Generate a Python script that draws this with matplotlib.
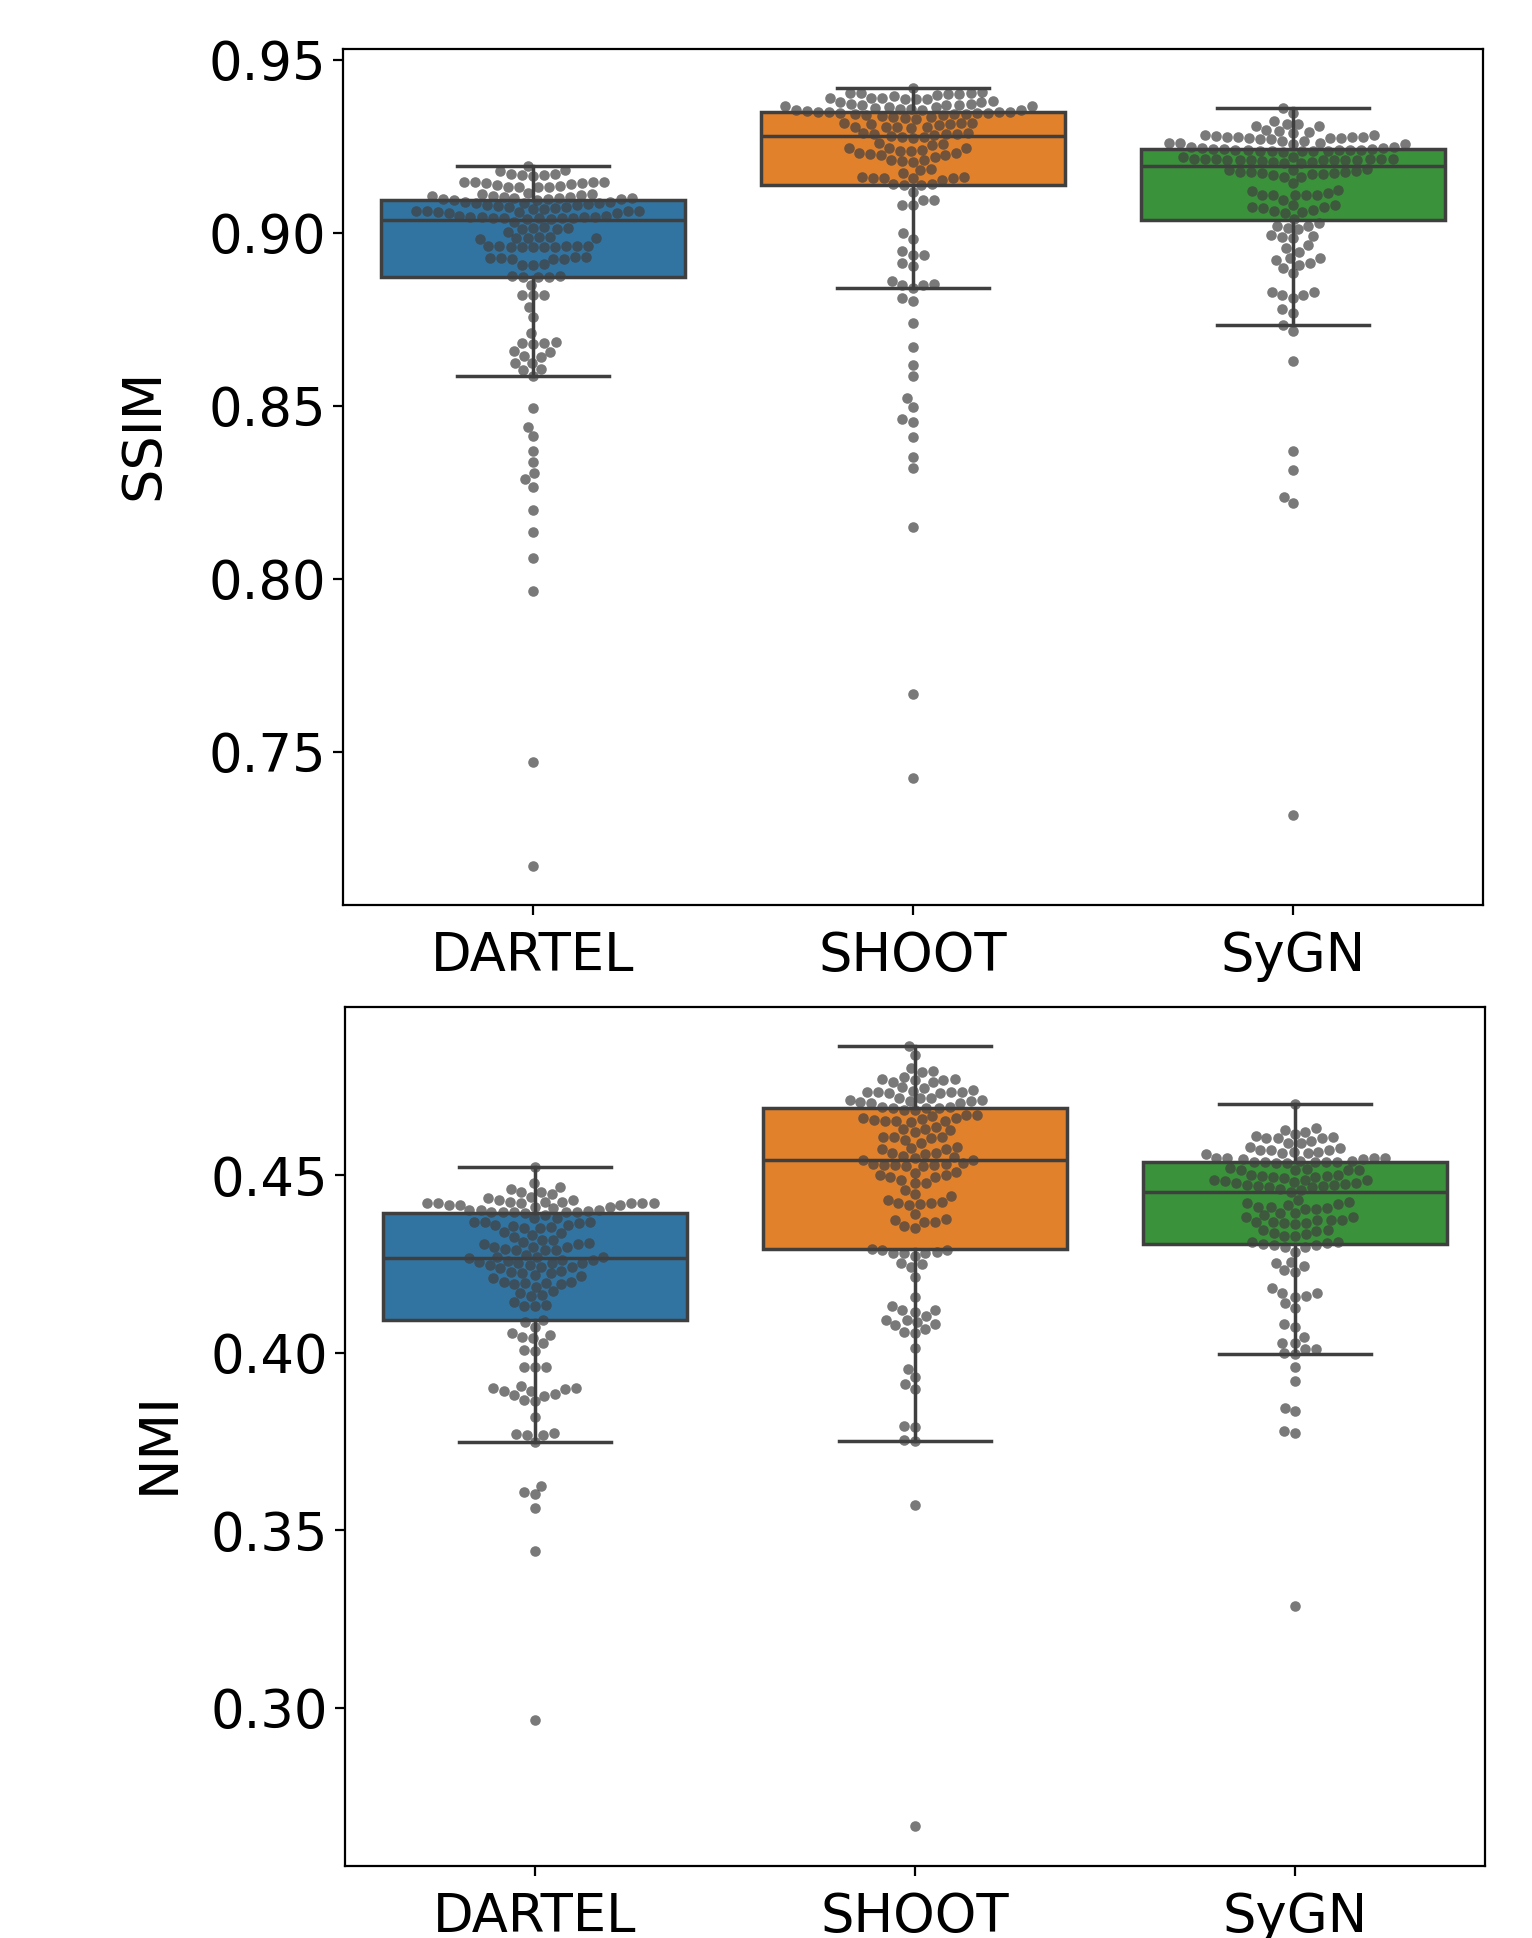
import matplotlib
matplotlib.use("Agg")
import matplotlib.pyplot as plt
import numpy as np

methods = ["DARTEL", "SHOOT", "SyGN"]
box_colors = ["#3274a1", "#e1812c", "#3a923a"]

# SSIM per subject (top to bottom)
ssim_dartel = [
    0.9192, 0.9182, 0.9171, 0.9165, 0.9170, 0.9166, 0.9168, 0.9180,
    0.9147, 0.9146, 0.9143, 0.9132, 0.9133, 0.9140, 0.9132, 0.9139, 0.9145, 0.9134, 0.9135, 0.9146, 0.9148,
    0.9112, 0.9108, 0.9101, 0.9104, 0.9097, 0.9115, 0.9096, 0.9102, 0.9099, 0.9110, 0.9106, 0.9098, 0.9103,
    0.9113, 0.9095, 0.9100,
    0.9086, 0.9082, 0.9062, 0.9060, 0.9070, 0.9068, 0.9064, 0.9063, 0.9088, 0.9077, 0.9087, 0.9085, 0.9076,
    0.9080, 0.9087, 0.9090, 0.9063, 0.9072, 0.9058, 0.9057, 0.9061, 0.9074,
    0.9047, 0.9043, 0.9042, 0.9044, 0.9049, 0.9045, 0.9044, 0.9047, 0.9050, 0.9046, 0.9040, 0.9041, 0.9043,
    0.9032, 0.9013, 0.9015, 0.9012, 0.9016, 0.9011, 0.9004,
    0.8986, 0.8984, 0.8987, 0.8985, 0.8983, 0.8988,
    0.8961, 0.8960, 0.8962, 0.8959, 0.8961, 0.8960, 0.8963, 0.8958, 0.8962, 0.8960,
    0.8930, 0.8927, 0.8925, 0.8928, 0.8926, 0.8929, 0.8924,
    0.8908, 0.8906, 0.8909,
    0.8874, 0.8872, 0.8876, 0.8873, 0.8875,
    0.8850, 0.8821, 0.8820, 0.8822,
    0.8787, 0.8758, 0.8710, 0.8683, 0.8681, 0.8680, 0.8684, 0.8657, 0.8658, 0.8642, 0.8644, 0.8623, 0.8625,
    0.8604, 0.8606, 0.8587,
    0.8495, 0.8440, 0.8413, 0.8371, 0.8339, 0.8307, 0.8289, 0.8267, 0.8199, 0.8137, 0.8060, 0.7965,
    0.7472, 0.7169,
]
ssim_shoot = [
    0.9420,
    0.9408, 0.9402, 0.9401, 0.9398, 0.9405, 0.9396, 0.9404, 0.9403,
    0.9390, 0.9389, 0.9380, 0.9387, 0.9388, 0.9386, 0.9391,
    0.9371, 0.9370, 0.9366, 0.9365, 0.9374, 0.9366, 0.9370, 0.9372, 0.9377, 0.9378,
    0.9358, 0.9356, 0.9361, 0.9359, 0.9363, 0.9355, 0.9354, 0.9353,
    0.9350, 0.9349, 0.9344, 0.9332, 0.9348, 0.9346, 0.9340, 0.9330, 0.9350, 0.9336, 0.9342, 0.9345, 0.9347,
    0.9349, 0.9338, 0.9343, 0.9334,
    0.9317, 0.9312, 0.9307, 0.9307, 0.9307, 0.9303, 0.9306, 0.9315, 0.9317, 0.9315, 0.9319,
    0.9288, 0.9286, 0.9278, 0.9280, 0.9273, 0.9285, 0.9278, 0.9284, 0.9286, 0.9288,
    0.9254, 0.9259, 0.9256, 0.9244, 0.9245, 0.9246,
    0.9232, 0.9228, 0.9218, 0.9232, 0.9236, 0.9238, 0.9240, 0.9225, 0.9226,
    0.9210, 0.9206, 0.9210, 0.9208,
    0.9185, 0.9182, 0.9173,
    0.9160, 0.9161, 0.9160, 0.9162, 0.9154, 0.9158, 0.9159,
    0.9140, 0.9139, 0.9138, 0.9141,
    0.9119, 0.9095, 0.9094, 0.9082, 0.9080,
    0.8999, 0.8983, 0.8947, 0.8937, 0.8936, 0.8913, 0.8903, 0.8860, 0.8851, 0.8849, 0.8850, 0.8840,
    0.8811, 0.8803, 0.8739, 0.8669, 0.8618, 0.8587, 0.8524, 0.8498, 0.8463, 0.8453, 0.8409, 0.8353,
    0.8320, 0.8149, 0.7668, 0.7424,
]
ssim_sygn = [
    0.9360, 0.9346,
    0.9314, 0.9309, 0.9322, 0.9309, 0.9316,
    0.9293, 0.9288, 0.9283, 0.9278, 0.9278, 0.9283, 0.9295, 0.9298,
    0.9276, 0.9275, 0.9266, 0.9261, 0.9256, 0.9256, 0.9271, 0.9266, 0.9275, 0.9271, 0.9259, 0.9259, 0.9275,
    0.9276, 0.9279,
    0.9249, 0.9244, 0.9240, 0.9235, 0.9237, 0.9240, 0.9242, 0.9238, 0.9236, 0.9241, 0.9239, 0.9243, 0.9237,
    0.9240, 0.9242, 0.9238, 0.9245, 0.9249,
    0.9220, 0.9218, 0.9206, 0.9201, 0.9214, 0.9215, 0.9206, 0.9212, 0.9210, 0.9213, 0.9215, 0.9212, 0.9210,
    0.9211, 0.9213, 0.9210, 0.9212, 0.9201, 0.9208, 0.9214,
    0.9182, 0.9178, 0.9175, 0.9172, 0.9163, 0.9170, 0.9176, 0.9163, 0.9168, 0.9171, 0.9176, 0.9174, 0.9182,
    0.9184,
    0.9143,
    0.9124, 0.9116, 0.9110, 0.9110, 0.9110, 0.9095, 0.9110, 0.9111, 0.9121,
    0.9076, 0.9066, 0.9063, 0.9057, 0.9080, 0.9060, 0.9040, 0.9072, 0.9076, 0.9080,
    0.9030, 0.9020, 0.9015, 0.9010, 0.9020,
    0.8993, 0.8989, 0.8984, 0.8992,
    0.8965, 0.8955, 0.8946,
    0.8922, 0.8927, 0.8908, 0.8912, 0.8927,
    0.8898, 0.8883,
    0.8830, 0.8821, 0.8811, 0.8821, 0.8830,
    0.8780, 0.8768, 0.8733,
    0.8716, 0.8630, 0.8370, 0.8316, 0.8238, 0.8220, 0.7318,
]

# NMI per subject
nmi_dartel = [
    0.4523, 0.4477,
    0.4453, 0.4453, 0.4448, 0.4462, 0.4467,
    0.4431, 0.4422, 0.4406, 0.4425, 0.4422, 0.4415, 0.4411, 0.4425, 0.4422, 0.4420, 0.4422, 0.4434, 0.4411,
    0.4439, 0.4415, 0.4420, 0.4425, 0.4415, 0.4429,
    0.4401, 0.4399, 0.4378, 0.4378, 0.4387, 0.4397, 0.4397, 0.4397, 0.4401, 0.4392, 0.4397, 0.4397, 0.4401,
    0.4359, 0.4354, 0.4368, 0.4352, 0.4368, 0.4352, 0.4359, 0.4368, 0.4356, 0.4365,
    0.4340, 0.4337, 0.4326, 0.4331,
    0.4317, 0.4312, 0.4308, 0.4298, 0.4291, 0.4289, 0.4306, 0.4289, 0.4289, 0.4296, 0.4298, 0.4306, 0.4317,
    0.4275, 0.4265, 0.4259, 0.4260, 0.4268, 0.4270, 0.4253, 0.4256, 0.4260, 0.4268,
    0.4246, 0.4237, 0.4253, 0.4246, 0.4242, 0.4251, 0.4242, 0.4230,
    0.4223, 0.4215, 0.4211, 0.4218, 0.4223, 0.4228,
    0.4199, 0.4186, 0.4196, 0.4192, 0.4192, 0.4195, 0.4199,
    0.4167, 0.4172, 0.4159, 0.4162,
    0.4143, 0.4131, 0.4131, 0.4134,
    0.4092, 0.4087,
    0.4071, 0.4056, 0.4043, 0.4040, 0.4049, 0.4026,
    0.4006, 0.4005,
    0.3959, 0.3960, 0.3958,
    0.3892, 0.3880, 0.3901, 0.3893, 0.3899, 0.3906, 0.3896, 0.3865, 0.3864, 0.3879, 0.3883,
    0.3819,
    0.3768, 0.3768, 0.3772, 0.3771, 0.3747,
    0.3625, 0.3608, 0.3601, 0.3563, 0.3441, 0.2965,
]
nmi_shoot = [
    0.4863, 0.4838,
    0.4801, 0.4791, 0.4794,
    0.4777, 0.4768, 0.4770, 0.4768, 0.4763, 0.4763, 0.4770,
    0.4744, 0.4741, 0.4735, 0.4732, 0.4747, 0.4735, 0.4735, 0.4732, 0.4735, 0.4738,
    0.4716, 0.4711, 0.4704, 0.4716, 0.4706, 0.4716, 0.4709, 0.4709, 0.4702, 0.4711,
    0.4692, 0.4690, 0.4683, 0.4688, 0.4692, 0.4683, 0.4690,
    0.4666, 0.4660, 0.4653, 0.4653, 0.4650, 0.4657, 0.4662, 0.4655, 0.4653, 0.4668, 0.4668,
    0.4629, 0.4629, 0.4627, 0.4622, 0.4636,
    0.4608, 0.4600, 0.4603, 0.4606, 0.4608,
    0.4572, 0.4563, 0.4580, 0.4589, 0.4559, 0.4572, 0.4575,
    0.4554, 0.4561, 0.4547, 0.4542, 0.4542, 0.4550,
    0.4531, 0.4528, 0.4526, 0.4528, 0.4533, 0.4526, 0.4528, 0.4530,
    0.4500, 0.4500, 0.4486, 0.4507, 0.4509, 0.4495, 0.4495,
    0.4458, 0.4477, 0.4477, 0.4446,
    0.4431, 0.4422, 0.4415, 0.4418, 0.4420, 0.4425, 0.4441,
    0.4390,
    0.4375, 0.4373, 0.4356, 0.4352, 0.4369, 0.4369,
    0.4293, 0.4290,
    0.4281, 0.4272, 0.4284, 0.4281, 0.4281, 0.4288,
    0.4242, 0.4251, 0.4249, 0.4214, 0.4157,
    0.4115, 0.4119, 0.4130, 0.4119,
    0.4093, 0.4092, 0.4103, 0.4078, 0.4081, 0.4085,
    0.4059, 0.4056, 0.4065, 0.4012,
    0.3955, 0.3932, 0.3911, 0.3896, 0.3792, 0.3790, 0.3753, 0.3751,
    0.3570, 0.2667,
]
nmi_sygn = [
    0.4699,
    0.4632, 0.4622, 0.4627,
    0.4615, 0.4603, 0.4597, 0.4589, 0.4603, 0.4606, 0.4591, 0.4603, 0.4610,
    0.4575, 0.4566, 0.4561, 0.4560, 0.4570, 0.4570, 0.4566, 0.4561, 0.4570, 0.4580,
    0.4538, 0.4538, 0.4547, 0.4538, 0.4535, 0.4541, 0.4538, 0.4544, 0.4547, 0.4541, 0.4535, 0.4538, 0.4544,
    0.4547, 0.4549,
    0.4514, 0.4500, 0.4495, 0.4495, 0.4514, 0.4514, 0.4516, 0.4514, 0.4497, 0.4497, 0.4500, 0.4519,
    0.4478, 0.4472, 0.4472, 0.4467, 0.4465, 0.4462, 0.4484, 0.4481, 0.4487, 0.4487, 0.4486, 0.4493, 0.4469,
    0.4469, 0.4475, 0.4477, 0.4458, 0.4453,
    0.4418, 0.4411, 0.4403, 0.4430, 0.4421, 0.4403, 0.4408, 0.4411, 0.4415, 0.4425,
    0.4381, 0.4373, 0.4362, 0.4387, 0.4368, 0.4392, 0.4392, 0.4365, 0.4373, 0.4368, 0.4365, 0.4373, 0.4381,
    0.4345, 0.4338, 0.4328, 0.4328, 0.4335, 0.4343, 0.4345,
    0.4312, 0.4306, 0.4303, 0.4298, 0.4298, 0.4303, 0.4308, 0.4312,
    0.4284,
    0.4251, 0.4232, 0.4228, 0.4244, 0.4256,
    0.4181, 0.4167, 0.4157, 0.4158, 0.4168,
    0.4139, 0.4125,
    0.4071, 0.4080,
    0.4045, 0.4026, 0.4027,
    0.4009, 0.3998, 0.4009, 0.3996,
    0.3958, 0.3920, 0.3845, 0.3835, 0.3778, 0.3772, 0.3285,
]

DPI = 200
GRAY = "#3f3f3f"
DOT = 3.8  # marker diameter in points
FS = 19


def swarm(ax, x0, values, size_pt):
    # beeswarm placement in display space, same idea as seaborn's swarmplot
    d = size_pt * ax.figure.dpi / 72.0
    pts = ax.transData.transform(np.column_stack([np.full(len(values), x0), values]))
    order = np.argsort(pts[:, 1], kind="stable")
    placed = []
    out = pts.copy()
    for i in order:
        x, y = pts[i]
        nb = [(px, py) for px, py in placed if abs(y - py) < d]
        left, right = [], []
        for px, py in nb:
            dx = np.sqrt(max(d ** 2 - (y - py) ** 2, 0)) * 1.05
            left.append(px - dx)
            right.append(px + dx)
        cands = [x] + left + right
        cands.sort(key=lambda c: abs(c - x))
        for c in cands:
            if all((c - px) ** 2 + (y - py) ** 2 >= 0.999 * d ** 2 for px, py in nb):
                break
        placed.append((c, y))
        out[i] = (c, y)
    return ax.transData.inverted().transform(out)


def panel(ax, groups, ylim, yticks, ylabel, label_pos):
    bp = ax.boxplot(groups, positions=[0, 1, 2], widths=0.8, patch_artist=True,
                    showfliers=False, capwidths=0.4,
                    boxprops=dict(edgecolor=GRAY, linewidth=1.25),
                    whiskerprops=dict(color=GRAY, linewidth=1.25),
                    capprops=dict(color=GRAY, linewidth=1.25),
                    medianprops=dict(color=GRAY, linewidth=1.25))
    for patch, c in zip(bp["boxes"], box_colors):
        patch.set_facecolor(c)
    ax.set_xlim(-0.5, 2.5)
    ax.set_ylim(*ylim)
    ax.set_xticks([0, 1, 2])
    ax.set_xticklabels(methods, fontsize=FS)
    ax.set_yticks(yticks)
    ax.set_yticklabels(["%.2f" % t for t in yticks], fontsize=FS)
    ax.tick_params(axis="x", pad=5.5)
    ax.tick_params(axis="y", pad=2.5)
    ax.set_ylabel(ylabel, fontsize=19.5)
    ax.yaxis.set_label_coords(*label_pos)
    for k, vals in enumerate(groups):
        xy = swarm(ax, k, vals, DOT)
        ax.scatter(xy[:, 0], xy[:, 1], s=DOT ** 2, color="0.25", alpha=0.7,
                   linewidths=0, zorder=3)


fig = plt.figure(figsize=(1532 / DPI, 1938 / DPI), dpi=DPI)
ax1 = fig.add_axes([0.2237, 0.5331, 0.7441, 0.4417])
ax2 = fig.add_axes([0.2250, 0.0374, 0.7444, 0.4431])

panel(ax1, [ssim_dartel, ssim_shoot, ssim_sygn], (0.7058, 0.9532),
      [0.75, 0.80, 0.85, 0.90, 0.95], "SSIM", (-0.152, 0.55))
panel(ax2, [nmi_dartel, nmi_shoot, nmi_sygn], (0.2555, 0.4974),
      [0.30, 0.35, 0.40, 0.45], "NMI", (-0.140, 0.493))

fig.savefig("out.png", dpi=DPI)
